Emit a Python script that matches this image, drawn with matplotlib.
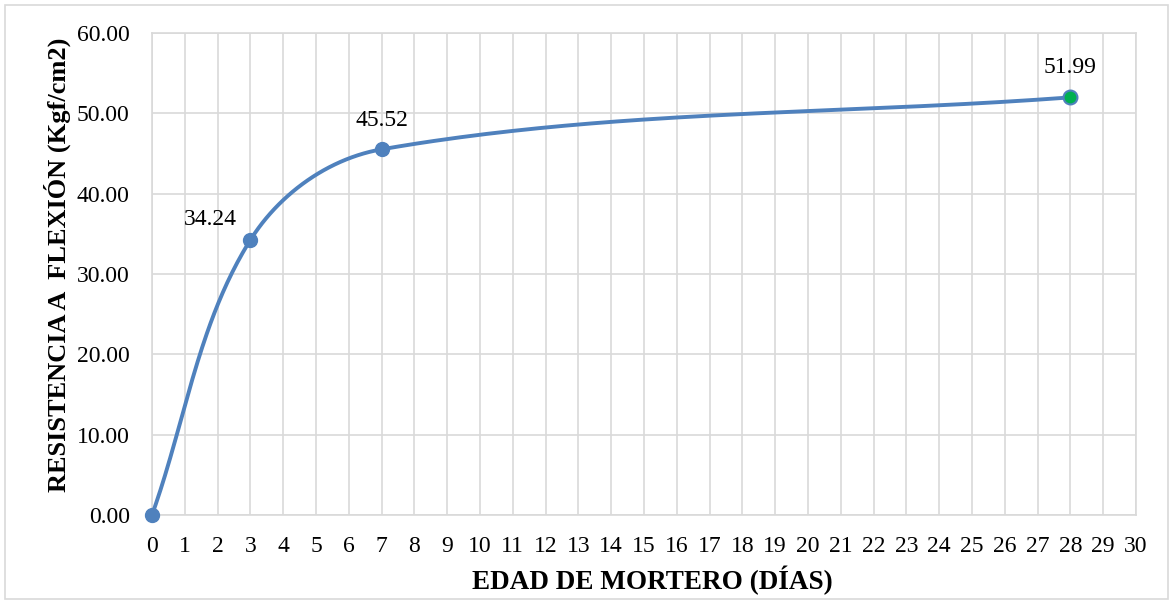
import numpy as np
import matplotlib
matplotlib.use("Agg")
import matplotlib.pyplot as plt
from matplotlib.patches import Rectangle

days = [0, 3, 7, 28]
strength = [0.0, 34.24, 45.52, 51.99]
labels = ["", "34.24", "45.52", "51.99"]
x_ticks = list(range(0, 31))
y_ticks = [0, 10, 20, 30, 40, 50, 60]

plt.rcParams['font.family'] = ['Liberation Serif', 'DejaVu Serif']

fig = plt.figure(figsize=(11.74, 6.03), dpi=100)
ax = fig.add_axes([152/1174, 1-515/603, (1136-152)/1174, (515-33)/603])
ax.set_xlim(0, 30)
ax.set_ylim(0, 60)

# Excel-like smoothed line (Bezier, tangent scaled by segment length, pixel space)
sx = 984/30.0
sy = 482/60.0
P = np.array([[d*sx, s*sy] for d, s in zip(days, strength)])
n = len(P)
tang = []
for i in range(n):
    a = P[i-1] if i > 0 else P[i]
    b = P[i+1] if i < n-1 else P[i]
    v = b - a
    tang.append(v/np.linalg.norm(v))
xs, ys = [], []
t = np.linspace(0, 1, 80)
k = 0.34
for i in range(n-1):
    p1, p2 = P[i], P[i+1]
    L = np.linalg.norm(p2 - p1)
    c1 = p1 + tang[i]*L*k
    c2 = p2 - tang[i+1]*L*k
    for tt in t:
        bz = ((1-tt)**3)*p1 + 3*((1-tt)**2)*tt*c1 + 3*(1-tt)*tt**2*c2 + tt**3*p2
        xs.append(bz[0]/sx); ys.append(bz[1]/sy)

blue = '#4F81BD'
ax.plot(xs, ys, color=blue, lw=2.8, solid_capstyle='round', zorder=3, clip_on=False)
ax.plot(days[:-1], strength[:-1], 'o', color=blue, ms=10, zorder=4, clip_on=False)
ax.plot(days[-1:], strength[-1:], 'o', markerfacecolor='#00B050', markeredgecolor=blue,
        markeredgewidth=1.5, ms=10, zorder=4, clip_on=False)

offsets = [(0, 0), (-29, 14.5), (0, 21), (0, 21.5)]
for d, s, lab, off in zip(days, strength, labels, offsets):
    if lab:
        ax.annotate(lab, (d, s), xytext=off, textcoords='offset points',
                    ha='center', va='center', fontsize=17, color='#000000')

ax.set_xticks(x_ticks)
ax.set_yticks(y_ticks)
ax.set_yticklabels([f"{v:.2f}" for v in y_ticks])
ax.tick_params(axis='y', length=0, labelsize=17, colors='#000000', pad=16)
ax.tick_params(axis='x', length=0, labelsize=17, colors='#000000', pad=15)
ax.grid(True, color='#D9D9D9', lw=1.2)
ax.set_axisbelow(True)
for sp in ax.spines.values():
    sp.set_color('#D9D9D9')
    sp.set_linewidth(1.2)

ax.set_xlabel("EDAD DE MORTERO (DÍAS)", fontsize=19.5, fontweight='bold')
ax.set_ylabel("RESISTENCIA A  FLEXIÓN (Kgf/cm2)", fontsize=19, fontweight='bold')
ax.xaxis.set_label_coords((652-152)/984, -(580-515)/482, transform=ax.transAxes)
ax.xaxis.label.set_va('center')
ax.yaxis.set_label_coords(-(152-57)/984, (515-265)/482, transform=ax.transAxes)
ax.yaxis.label.set_va('center')

fig.patches.append(Rectangle((5/1174, 4/603), 1163/1174, 594/603, transform=fig.transFigure,
                             fill=False, edgecolor='#D9D9D9', lw=1.2))

fig.savefig('out.png', dpi=100)
